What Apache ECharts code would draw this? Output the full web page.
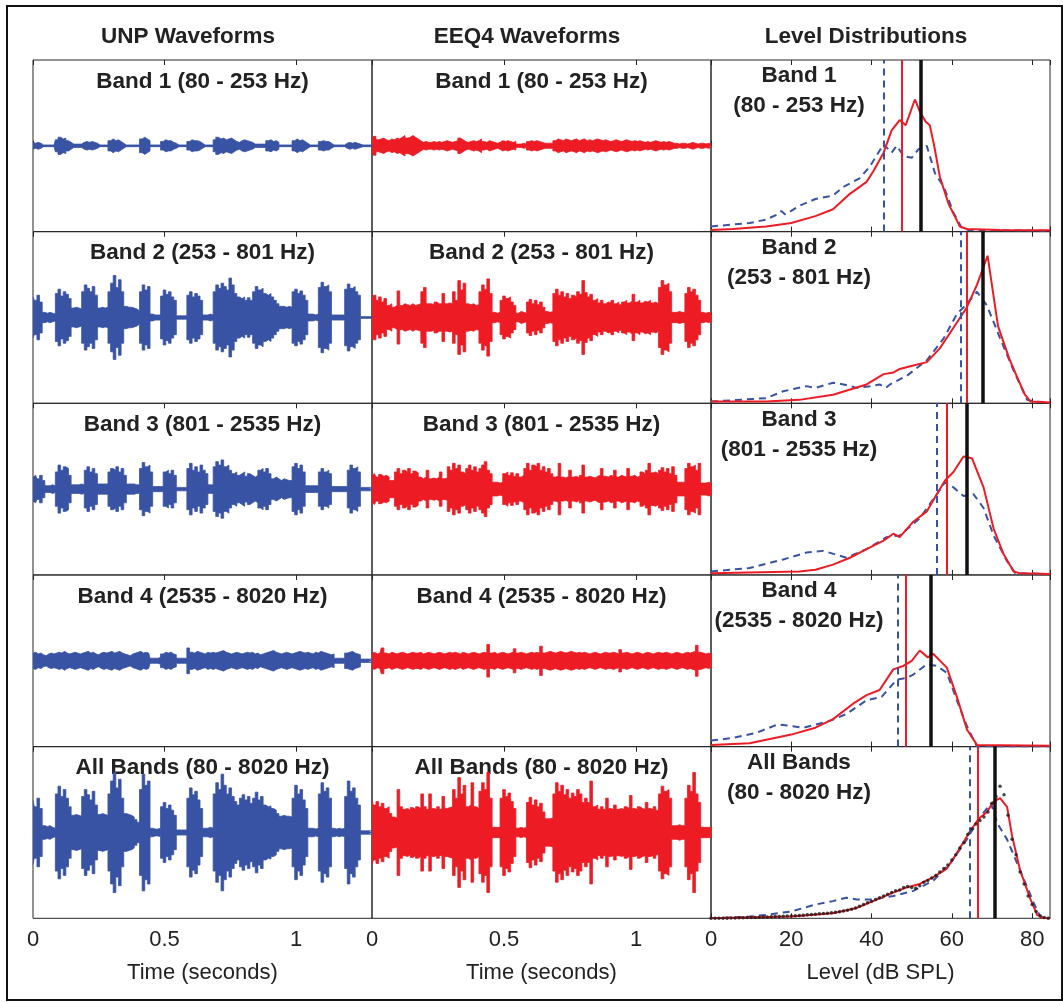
<!DOCTYPE html>
<html><head><meta charset="utf-8">
<script src="https://cdn.jsdelivr.net/npm/echarts/dist/echarts.min.js"></script>
<style>html,body{margin:0;padding:0;background:#fff}#c{width:1063px;height:1002px}</style>
</head><body><div id="c"></div>
<script>
// ---------- DATA ----------
const columnTitles = ['UNP Waveforms', 'EEQ4 Waveforms', 'Level Distributions'];
const rowTitles = ['Band 1 (80 - 253 Hz)', 'Band 2 (253 - 801 Hz)', 'Band 3 (801 - 2535 Hz)', 'Band 4 (2535 - 8020 Hz)', 'All Bands (80 - 8020 Hz)'];
const levelTitleLine1 = ['Band 1', 'Band 2', 'Band 3', 'Band 4', 'All Bands'];
const levelTitleLine2 = ['(80 - 253 Hz)', '(253 - 801 Hz)', '(801 - 2535 Hz)', '(2535 - 8020 Hz)', '(80 - 8020 Hz)'];
const timeAxisName = 'Time (seconds)';
const levelAxisName = 'Level (dB SPL)';
const timeTickStep = 0.5;
const levelTickStep = 20;
const envelopeStep = 0.01; // seconds between envelope samples

// waveform envelopes (percent of half panel height), one value per 10 ms
const unpBand1 = [4,3,4,3, 1,1,1,1,1, 7,10,8,9,6,4, 2,2,2,2, 4,5,4,5,4,3, 1,1,1,1, 6,8,6,7,5,3, 1,1,1,1,1,1, 8,10,8,6, 1,1,1,1, 5,7,6,6,4,3, 1,1,1,1, 5,7,6,6,5,3, 1,1,1,1, 7,10,8,9,7,8,9,7,5,4, 6,7,6,5,4, 2,2,2,2,2, 6,7,5,6,4, 1,1,1,1,1, 6,8,6,7,5,3, 1,1,1,1, 5,6,5,5,3, 1,1,1,1,1, 3,4,3,4,3,2, 1,1,1,1,1];
const unpBand2 = [24,20,26,18, 6,5,6,5,4, 28,33,25,30,27,22, 11,12,11,10, 30,38,34,30,36,26, 11,12,11,12, 30,40,49,35,44,30, 13,12,12,11,10,8, 30,38,32,36, 4,3,3,3, 25,32,27,30,24,20, 2,2,2,2, 26,30,24,28,25,20, 3,3,4,3, 30,38,34,40,36,32,46,38,28,24, 22,24,20,23,20, 30,36,32,34,28, 26,28,24,20,16, 13,13,12,13,12, 30,33,28,31,26,20, 4,4,3,4, 35,41,36,38,30, 3,3,3,3,3, 33,39,34,36,30,26, 1,1,1,1,1];
const unpBand3 = [14,16,12,16,10, 4,4,5,4, 20,28,22,26,24,16, 5,5,5,6,5, 22,26,20,24,18, 6,6,6,6, 20,24,22,26,20,24,16, 6,6,6,5,5, 24,31,26,28,20, 3,3,3,3, 20,22,18,22,16, 2,2,2,2, 24,30,22,26,20,28,22,18, 5,5, 26,32,28,34,26,28,22, 18,20,16,18,20,15,18,16,14,16, 22,24,20,24,18, 12,14,12,10,12,11,10,10, 26,30,24,28,20, 4,4,4,4,4, 20,24,20,22,18, 3,3,3,3,3,3, 22,28,24,26,20, 2,2,2,2,2];
const unpBand4 = [9,10,8,9,7,6,8,9,8,9,10,9,11,9,8,9,10,9,8,9,10,11,9,10,8,7,9,10,9,10,11,9,10,11,9,8,7,6,8,9,10,11,9,10,9, 3,3,3,4, 8,10,9,10,8,7, 3,3,3,3, 15,10,9,11,10,9,8,10,9,10, 9,10,11,12,10,9,8,9,10,9,8,9,10,9,10,8,9,7,8,9,10,11,12,10,9,8,9,10,9,8,9,10,11,10,9,10,9,8,10,9,11,10,9,8,7,8, 3,3,3,3, 9,10,11,9,8,7, 2,2,2,2,2];
const unpAll = [37,30,40,28, 8,7,8,6,5, 45,54,42,50,40,30, 20,21,20,19, 42,50,44,38,48,32, 21,22,21,20, 45,60,70,52,62,40, 22,21,20,18,15,12, 50,68,55,60, 5,4,4,5, 30,35,28,32,26,20, 3,3,3,3, 40,52,44,48,38,28, 5,5,6,5, 45,58,50,68,55,45,52,42,36,32, 40,44,38,42,34, 40,47,38,42,32, 30,31,28,26,22, 19,20,19,19,18, 40,55,45,50,38,28, 5,5,4,5, 45,58,48,52,40, 5,4,5,4,5, 42,60,48,52,40,32, 2,2,2,2,2];

const eeqBand1 = [8,11,7,8,9,7,6,8,7,9,8,10,12,9,10,12,10,8,6, 4,5,4,4,5,4,5,4,5,6,5,4,5,6,9,7,5,4,5,6,5,6,8,5,4,6,5,4,3,4,6,5,6,5,4,5, 2,2,3,2, 5,6,5,6,5,4, 3,3,3,3, 6,8,7,6,8,7,6,7,8,6,7,8,6,7,6,7,8,7,6,7,6,5,6,7,6,5,6,7,6,5,6,5,6,5,4,5,4,5,6,5,4,5,4,5,4, 3,3,2,3,3,2,3,4,3,2,3,3,2,3,2,2];
const eeqBand2 = [22,26,20,24,18,22,14,16,12, 14,31,14,16,15,14,16,14,15,16,30, 35,16,16,15,18,16,16,28,16,17,16, 30,20,43,32,40, 16,15,16,14,15, 30,38,33,45,28, 6,5,6, 20,25,22,24,18,14, 5,7,6,5, 18,21,16,20,15,18,12, 7,6,7, 28,33,26,30,24,28,22,26,24,30,27, 43,29,24,27,20,22, 17,20,16,18,17,20,16,18,15, 18,20,17,19,27,18,20,17,19,18,20,17,18,16, 35,43,38,40,30, 6,6,7,6,6, 28,35,30,33,26,20, 6,5,6,5,6];
const eeqBand3 = [16,18,14,17,15,16,14,10,10, 20,24,18,22,20,24,18,21,19,14, 12,14,22,12,13,12,14,20,12,13, 26,22,30,24,28,20,18, 24,28,22,26,20,24,28,32,22,18, 8,8,7,8, 18,20,16,19,15,18,14,16, 24,30,22,28,26,30,22,26,20,24,18, 14,15,30,14,13,15,22,14,15,13,16,28,14,15,14,13, 15,16,24,15,14,16,15,22,14,16,15,14,24,15,16,14,15, 20,18,22,30,19,20,18, 22,25,20,24,18,26,16, 8,8,8, 24,30,26,28,22,30, 7,7,8,7,7];
const eeqBand4 = [9,10,8,9,15,9,8,10,9,8, 9,10,9,8,9,10,9,9,10,8, 9,10,9,8,9,10,9,8,9,10, 9,10,9,8,10,9,8,9,10,9, 8,9,10,9,19,9,10,8,9,10, 9,8,9,10,14,9,10,9,8,9, 10,9,10,9,17,9,10,11,10,9, 10,11,10,9,10,11,10,9,10,9, 10,9,8,9,10,9,8,9,10,9, 9,10,9,8,13,9,10,9,8,9, 10,9,8,9,10,9,8,9,10,9, 9,10,9,8,9,10,9,8,9,10, 9,10,11,18,10,9,8,9,8,7];
const eeqAll = [37,32,36,30,34,28,30,22,18, 17,50,30,27,28,26,29,27,30,28,45, 30,27,45,28,27,30,27,42,28,29,30, 50,40,64,45,55, 30,32,58,30,28, 48,58,50,70,40, 6,6,6, 40,50,42,46,36,28, 5,6,5,6, 35,41,32,38,30,34,24, 16,16,17, 45,58,48,55,44,50,40,46,42,50,45, 35,40,35,60,30,32, 27,30,27,40,28,27,32,27,28, 27,30,28,43,28,27,30,28,27,35,28,27,30,26, 45,54,48,50,40, 8,8,9,8,8, 40,55,48,70,45,35, 6,6,6,6,6];

// level distributions: [level dB, fraction of panel height]
const band1Red = [[0,0.01],[5.4,0.015],[13.75,0.03],[20,0.05],[26,0.09],[30.4,0.13],[34.6,0.22],[38.75,0.29],[40.4,0.35],[43,0.46],[45,0.59],[47,0.65],[48.5,0.62],[50.8,0.77],[52,0.7],[53.5,0.64],[54.5,0.62],[55.6,0.5],[57,0.32],[59.2,0.16],[62,0.03],[63.75,0.015],[72,0.01],[84.5,0.008]];
const band1Blue = [[0,0.03],[9.6,0.05],[13.75,0.07],[16.5,0.1],[17.5,0.12],[18.5,0.1],[22,0.15],[26,0.19],[30.4,0.21],[32.9,0.26],[37,0.31],[39.6,0.38],[43,0.51],[45,0.46],[46.25,0.5],[48,0.44],[50,0.43],[51.7,0.48],[53.75,0.5],[55.8,0.34],[58,0.26],[60.4,0.11],[62.5,0.02],[64,0.01],[84.5,0.005]];
const band2Red = [[0,0.01],[13.75,0.01],[22,0.02],[30.4,0.05],[38.75,0.11],[43,0.17],[45.5,0.18],[47,0.2],[50.4,0.22],[53.75,0.24],[57,0.32],[60.4,0.44],[63.75,0.56],[66.25,0.69],[68.9,0.86],[71.5,0.45],[74.3,0.26],[76.5,0.14],[78.2,0.05],[79.6,0.01],[84.5,0.005]];
const band2Blue = [[0,0.01],[13.75,0.03],[18,0.07],[23.75,0.1],[26,0.09],[30.4,0.12],[33,0.11],[36.25,0.09],[40,0.1],[42,0.11],[43.5,0.09],[44.6,0.11],[48.75,0.16],[53.75,0.25],[58,0.38],[61.25,0.52],[63.75,0.58],[66.25,0.65],[68.75,0.57],[72,0.38],[75.4,0.19],[78.75,0.02],[80.5,0.01],[84.5,0.005]];
const band3Red = [[0,0.01],[22,0.02],[26,0.03],[30.4,0.06],[34.6,0.1],[38.75,0.15],[43,0.2],[45.4,0.24],[47,0.22],[50.4,0.31],[53.75,0.37],[56.25,0.47],[58.3,0.55],[60.4,0.6],[62.9,0.69],[65,0.68],[67.9,0.51],[70.4,0.27],[72.9,0.12],[75.4,0.02],[77,0.01],[84.5,0.005]];
const band3Blue = [[0,0.02],[9.6,0.04],[18,0.09],[23.75,0.13],[28,0.14],[33.75,0.1],[38.75,0.15],[43.75,0.22],[47,0.23],[52,0.33],[56.25,0.47],[58.3,0.54],[60.4,0.51],[62.9,0.46],[65.4,0.47],[67.9,0.39],[70.4,0.23],[73.75,0.08],[75.8,0.01],[84.5,0.005]];
const band4Red = [[0,0.01],[9.6,0.02],[20,0.07],[26,0.11],[30.4,0.16],[35.4,0.25],[38.75,0.3],[42,0.33],[45.4,0.45],[47.9,0.47],[50,0.5],[52,0.56],[54,0.52],[55.4,0.54],[58.75,0.46],[61.25,0.29],[63.75,0.1],[66.25,0.01],[84.5,0.005]];
const band4Blue = [[0,0.035],[5.4,0.05],[11.25,0.08],[16.7,0.13],[23,0.11],[29.6,0.15],[33.75,0.19],[38.75,0.27],[42.5,0.29],[46.25,0.39],[48.75,0.4],[50.4,0.42],[53.75,0.48],[56.25,0.47],[58.75,0.43],[61.25,0.27],[63.75,0.12],[66.25,0.0],[84.5,0]];
const allRed = [[0,0],[20,0.01],[30.4,0.03],[36.25,0.06],[40.4,0.1],[45.4,0.15],[48.75,0.18],[52,0.2],[55.4,0.24],[58.75,0.29],[61.25,0.38],[64.6,0.51],[66.7,0.58],[68.75,0.62],[70.4,0.68],[72,0.7],[73.75,0.65],[75,0.48],[77,0.28],[79.6,0.11],[81.25,0.02],[82.9,0],[84.5,0]];
const allBlue = [[0,0],[9.6,0.01],[13.75,0.02],[20,0.04],[26,0.08],[30.4,0.1],[33.75,0.12],[36.25,0.11],[40.4,0.11],[45.4,0.13],[50.4,0.16],[55.4,0.22],[59.6,0.32],[63.75,0.46],[67,0.59],[69.75,0.67],[71.4,0.55],[73.75,0.46],[77,0.28],[80.4,0.09],[82,0.01],[84.5,0]];
// black dotted distribution (All Bands), one value per 1 dB from 0 dB
const allDots = [0,0,0,0,0.001,0.002,0.002,0.003,0.003,0.004,0.005,0.005,0.006,0.007,0.008,0.009,0.01,0.011,0.012,0.013,0.014,0.015,0.016,0.018,0.02,0.022,0.024,0.026,0.028,0.03,0.032,0.035,0.038,0.042,0.047,0.053,0.06,0.07,0.08,0.09,0.1,0.11,0.12,0.13,0.14,0.15,0.16,0.165,0.18,0.185,0.18,0.175,0.19,0.21,0.22,0.235,0.25,0.27,0.29,0.31,0.34,0.37,0.41,0.44,0.49,0.52,0.55,0.57,0.59,0.62,0.67,0.71,0.77,0.72,0.6,0.46,0.37,0.27,0.2,0.13,0.08,0.04,0.015,0.005,0];

// vertical reference levels (dB)
const blueDashedLevels = [43.1, 62.1, 56.25, 46.4, 64.4];
const redLevels = [47.5, 63.75, 58.75, 48.5, 66.5];
const blackLevels = [52.25, 67.75, 63.75, 54.8, 70.8];

const unpEnvelopes = [unpBand1, unpBand2, unpBand3, unpBand4, unpAll];
const eeqEnvelopes = [eeqBand1, eeqBand2, eeqBand3, eeqBand4, eeqAll];
const redCurves = [band1Red, band2Red, band3Red, band4Red, allRed];
const blueCurves = [band1Blue, band2Blue, band3Blue, band4Blue, allBlue];

// ---------- LAYOUT / STYLE ----------
const colLeft = [33, 372, 711], colW = 339;
const rowTop = [60, 231.7, 403.3, 575, 746.7], rowH = 171.6;
const xMax = [1.289, 1.284, 84.45];
const BLUE = '#3953a4', RED = '#ed1c24', INK = '#222', FRAME = '#262626';
const FONT = '"Liberation Sans", Arial, Helvetica, sans-serif';
const TITLE_FONT = 'bold 22.5px ' + FONT;

const grids = [], xAxes = [], yAxes = [], series = [], graphics = [];
for (let r = 0; r < 5; r++) {
  for (let c = 0; c < 3; c++) {
    const g = r * 3 + c;
    grids.push({left: colLeft[c], top: rowTop[r], width: colW, height: rowH,
      show: true, borderColor: FRAME, borderWidth: 1, backgroundColor: 'transparent'});
    const interval = c < 2 ? timeTickStep : levelTickStep;
    const tick = {show: true, inside: true, length: 5, lineStyle: {color: FRAME, width: 1}};
    xAxes.push({type: 'value', gridIndex: g, position: 'bottom', min: 0, max: xMax[c], interval,
      axisLine: {show: false}, axisTick: tick, splitLine: {show: false},
      axisLabel: {show: r === 4, showMaxLabel: false, showMinLabel: true, margin: 11,
        fontSize: 22, color: INK, fontFamily: FONT}});
    xAxes.push({type: 'value', gridIndex: g, position: 'top', min: 0, max: xMax[c], interval,
      axisLine: {show: false}, axisTick: tick, splitLine: {show: false}, axisLabel: {show: false}});
    yAxes.push({type: 'value', gridIndex: g, show: false,
      min: c < 2 ? -1 : 0, max: 1});
    const xi = 2 * g;
    if (c < 2) {
      const env = (c === 0 ? unpEnvelopes : eeqEnvelopes)[r];
      const col = c === 0 ? BLUE : RED;
      const up = env.map((a, i) => [+(i * envelopeStep).toFixed(2), a / 100]);
      const dn = env.map((a, i) => [+(i * envelopeStep).toFixed(2), -a / 100]);
      [up, dn].forEach(d => series.push({type: 'line', xAxisIndex: xi, yAxisIndex: g, data: d,
        step: 'middle', symbol: 'none', silent: true, lineStyle: {width: 0.8, color: col},
        areaStyle: {color: col, opacity: 1}}));
      // zero baseline of the waveform
      series.push({type: 'line', xAxisIndex: xi, yAxisIndex: g, data: [[0, 0], [xMax[c], 0]],
        symbol: 'none', silent: true, lineStyle: {width: 1.6, color: col}});
      graphics.push({type: 'text', x: colLeft[c] + colW / 2, y: rowTop[r] + 21.5,
        style: {text: rowTitles[r], font: TITLE_FONT, fill: INK, textAlign: 'center', textVerticalAlign: 'middle'}});
    } else {
      series.push({type: 'line', xAxisIndex: xi, yAxisIndex: g, data: blueCurves[r], symbol: 'none', silent: true,
        z: 3, lineStyle: {width: 2, color: BLUE, type: [7, 5]},
        markLine: {silent: true, symbol: ['none', 'none'], label: {show: false}, animation: false,
          lineStyle: {color: BLUE, width: 2, type: [7, 5]}, data: [{xAxis: blueDashedLevels[r]}]}});
      series.push({type: 'line', xAxisIndex: xi, yAxisIndex: g, data: redCurves[r], symbol: 'none', silent: true,
        z: 4, lineStyle: {width: 2, color: RED},
        markLine: {silent: true, symbol: ['none', 'none'], label: {show: false}, animation: false,
          data: [{xAxis: redLevels[r], lineStyle: {color: RED, width: 2, type: 'solid'}},
                 {xAxis: blackLevels[r], lineStyle: {color: '#111', width: 3.5, type: 'solid'}}]}});
      if (r === 4) {
        series.push({type: 'scatter', xAxisIndex: xi, yAxisIndex: g, silent: true, z: 5,
          data: allDots.map((v, i) => [i, v]), symbolSize: 3.5, itemStyle: {color: '#1a1a1a'}});
      }
      graphics.push({type: 'text', x: 799, y: rowTop[r] + 16,
        style: {text: levelTitleLine1[r], font: TITLE_FONT, fill: INK, textAlign: 'center', textVerticalAlign: 'middle'}});
      graphics.push({type: 'text', x: 799, y: rowTop[r] + 46,
        style: {text: levelTitleLine2[r], font: TITLE_FONT, fill: INK, textAlign: 'center', textVerticalAlign: 'middle'}});
    }
  }
}
// column titles
const colTitleX = [188, 527, 866];
columnTitles.forEach((t, c) => graphics.push({type: 'text', x: colTitleX[c], y: 37,
  style: {text: t, font: TITLE_FONT, fill: INK, textAlign: 'center', textVerticalAlign: 'middle'}}));
// axis names
[timeAxisName, timeAxisName, levelAxisName].forEach((t, c) => graphics.push({type: 'text',
  x: colLeft[c] + colW / 2, y: 973,
  style: {text: t, font: '22px ' + FONT, fill: INK, textAlign: 'center', textVerticalAlign: 'middle'}}));
// outer frame
graphics.push({type: 'rect', shape: {x: 7, y: 6, width: 1055, height: 994}, z: -1,
  style: {fill: 'none', stroke: '#111', lineWidth: 2}});

const chart = echarts.init(document.getElementById('c'), null, {renderer: 'canvas'});
chart.setOption({animation: false, backgroundColor: '#fff', grid: grids, xAxis: xAxes, yAxis: yAxes,
  series, graphic: {elements: graphics}});
</script></body></html>
